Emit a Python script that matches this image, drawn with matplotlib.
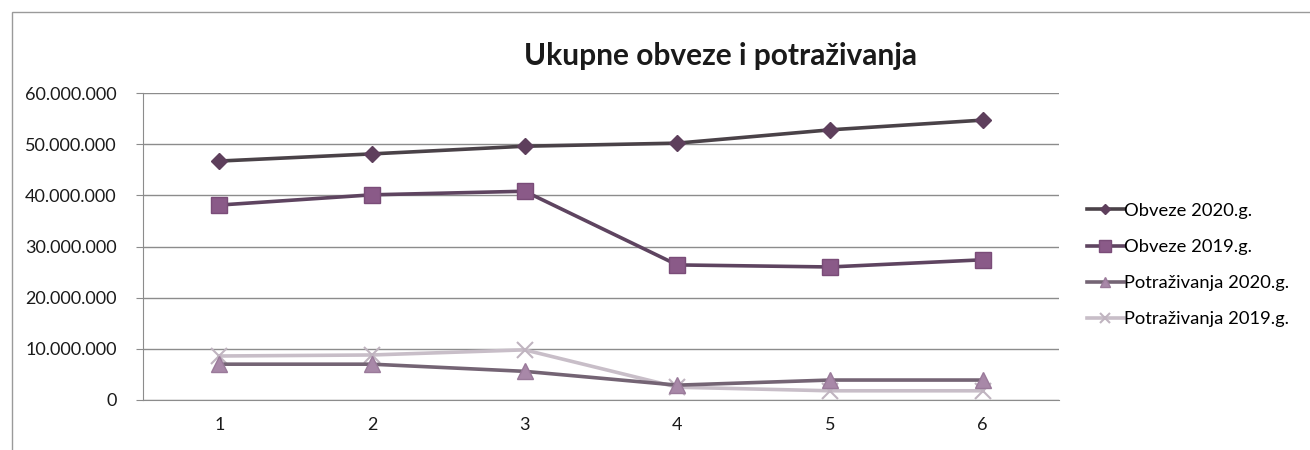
import matplotlib
matplotlib.use("Agg")
import matplotlib.pyplot as plt
from matplotlib.patches import Rectangle
from matplotlib.ticker import FuncFormatter

plt.rcParams['font.family'] = ['Lato', 'DejaVu Sans']

# data
periods = [1, 2, 3, 4, 5, 6]
obveze_2020 = [46.7e6, 48.1e6, 49.6e6, 50.2e6, 52.8e6, 54.7e6]
obveze_2019 = [38.1e6, 40.1e6, 40.8e6, 26.4e6, 26.0e6, 27.4e6]
potr_2020 = [7.0e6, 7.0e6, 5.6e6, 2.9e6, 3.9e6, 3.9e6]
potr_2019 = [8.6e6, 8.8e6, 9.8e6, 2.5e6, 1.8e6, 1.8e6]
labels = ["Obveze 2020.g.", "Obveze 2019.g.", "Potraživanja 2020.g.", "Potraživanja 2019.g."]

W, H = 1310, 450
fig = plt.figure(figsize=(W / 100, H / 100), dpi=100)
fig.patch.set_facecolor("white")

# outer chart frame (only left/top visible in reference)
fig.patches.append(Rectangle((12 / W, -0.1), 1.2, 1 - 12 / H + 0.1,
                             transform=fig.transFigure, fill=False,
                             edgecolor="#9a9a9a", lw=1.0))

ax = fig.add_axes([143 / W, 1 - 400 / H, (1059 - 143) / W, (400 - 93) / H])

xs = range(len(periods))
ax.plot(xs, obveze_2020, color="#4a4248", lw=2.6, marker="D", ms=8,
        mfc="#5e3f5c", mec="#5e3f5c", label=labels[0], zorder=5)
ax.plot(xs, obveze_2019, color="#5e4460", lw=2.6, marker="s", ms=12,
        mfc="#8a5a88", mec="#7a4c78", label=labels[1], zorder=4)
ax.plot(xs, potr_2020, color="#746474", lw=2.6, marker="^", ms=11,
        mfc="#a888a8", mec="#9a7a9a", label=labels[2], zorder=3)
ax.plot(xs, potr_2019, color="#c8bec8", lw=2.6, marker="x", ms=11, mew=1.5,
        mec="#c0b4c0", label=labels[3], zorder=2)

ax.set_xlim(-0.5, len(periods) - 0.5)
ax.set_ylim(0, 60e6)
ax.set_yticks(range(0, 60000001, 10000000))
ax.yaxis.set_major_formatter(FuncFormatter(lambda v, p: f"{int(v):,}".replace(",", ".")))
ax.set_xticks(list(xs))
ax.set_xticklabels([str(p) for p in periods])

ax.grid(axis="y", color="#8c8c8c", lw=1.0)
ax.set_axisbelow(True)
for s in ["top", "right"]:
    ax.spines[s].set_visible(False)
ax.spines["left"].set_color("#8c8c8c")
ax.spines["bottom"].set_color("#8c8c8c")
ax.tick_params(axis="y", length=5, color="#8c8c8c", labelsize=13, pad=14, labelcolor="#1a1a1a")
ax.tick_params(axis="x", length=0, labelsize=13, pad=12, labelcolor="#1a1a1a")

fig.text(720 / W, 1 - 56 / H, "Ukupne obveze i potraživanja", ha="center", va="center",
         fontsize=21.5, fontweight="bold", color="#1a1a1a")

leg = ax.legend(loc="center left", bbox_to_anchor=(1074 / W, 1 - 265 / H),
                bbox_transform=fig.transFigure, frameon=False, fontsize=13.2,
                handlelength=2.0, handletextpad=0.05, labelspacing=1.1,
                markerscale=0.7, borderaxespad=0.3)

fig.savefig("out.png", dpi=100)
